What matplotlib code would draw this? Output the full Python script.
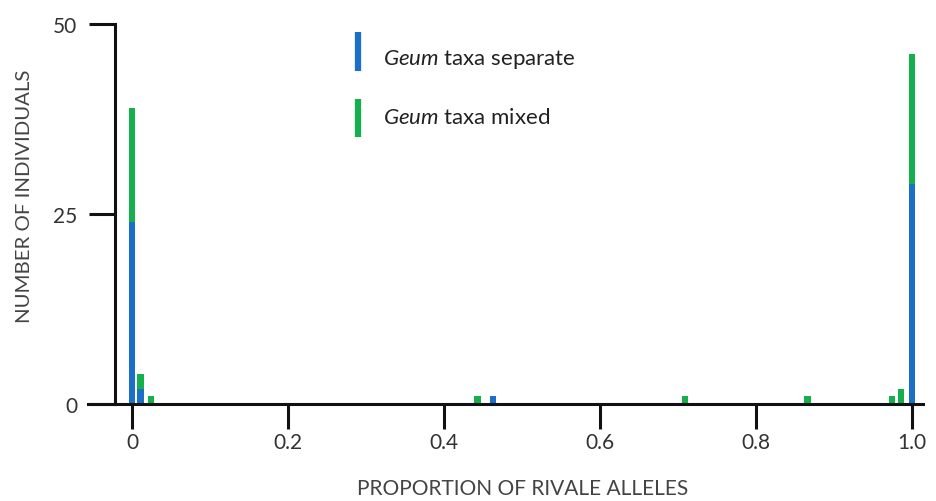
import numpy as np
import matplotlib
matplotlib.use("Agg")
import matplotlib.pyplot as plt

plt.rcParams['font.family'] = ['Lato', 'DejaVu Sans']
plt.rcParams['mathtext.fontset'] = 'custom'
plt.rcParams['mathtext.it'] = 'Lato:italic'
plt.rcParams['mathtext.rm'] = 'Lato'

# Proportion of rivale alleles per individual, and counts
sep_x = [0.0, 0.011, 0.463, 1.0]
sep_n = [24, 2, 1, 29]
mix_x = [0.0, 0.011, 0.024, 0.443, 0.709, 0.866, 0.974, 0.986, 1.0]
mix_n = [39, 4, 1, 1, 1, 1, 1, 2, 46]

blue = "#1b6fc8"
green = "#13b04d"
txt = "#333333"

fig = plt.figure(figsize=(9.37, 5.02), dpi=100)
ax = fig.add_axes([88 / 937, 1 - 405 / 502, (923 - 88) / 937, (405 - 25) / 502])

# mixed drawn behind, separate in front
ax.bar(mix_x, mix_n, width=0.008, color=green, linewidth=0)
ax.bar(sep_x, sep_n, width=0.008, color=blue, linewidth=0)

ax.set_xlim(-0.0564, 1.014)
ax.set_ylim(0, 50)

for s in ['top', 'right']:
    ax.spines[s].set_visible(False)
ax.spines['left'].set_position(('data', -0.0218))
ax.spines['left'].set_bounds(0, 50)
for s in ['left', 'bottom']:
    ax.spines[s].set_linewidth(2.2)
    ax.spines[s].set_color("#111111")

ax.set_xticks([0, 0.2, 0.4, 0.6, 0.8, 1.0])
ax.set_xticklabels(['0', '0.2', '0.4', '0.6', '0.8', '1.0'])
ax.set_yticks([0, 25, 50])
ax.tick_params(axis='x', direction='out', length=18, width=2.2, color="#111111",
               labelsize=15, labelcolor=txt, pad=2)
ax.tick_params(axis='y', direction='out', length=19, width=2.2, color="#111111",
               labelsize=15, labelcolor=txt, pad=8)

ax.set_xlabel("PROPORTION OF RIVALE ALLELES", fontsize=15, color="#444444")
ax.set_ylabel("NUMBER OF INDIVIDUALS", fontsize=14.7, color="#444444")
ax.xaxis.set_label_coords(0.521, -0.196)
ax.yaxis.set_label_coords(-0.066, 0.55)

# legend: vertical colour strokes with labels
key = [(blue, 0.979, 0.876, 0.908, r"$\it{Geum}$ taxa separate"),
       (green, 0.803, 0.703, 0.755, r"$\it{Geum}$ taxa mixed")]
for col, y0, y1, yt, lab in key:
    ax.plot([0.3234, 0.3234], [y0, y1], color=col, lw=4.5, transform=ax.transAxes,
            solid_capstyle='butt', clip_on=False)
    ax.text(0.353, yt, lab, transform=ax.transAxes, fontsize=16, color="#222222",
            va='center', ha='left')

fig.savefig("out.png", dpi=100)
